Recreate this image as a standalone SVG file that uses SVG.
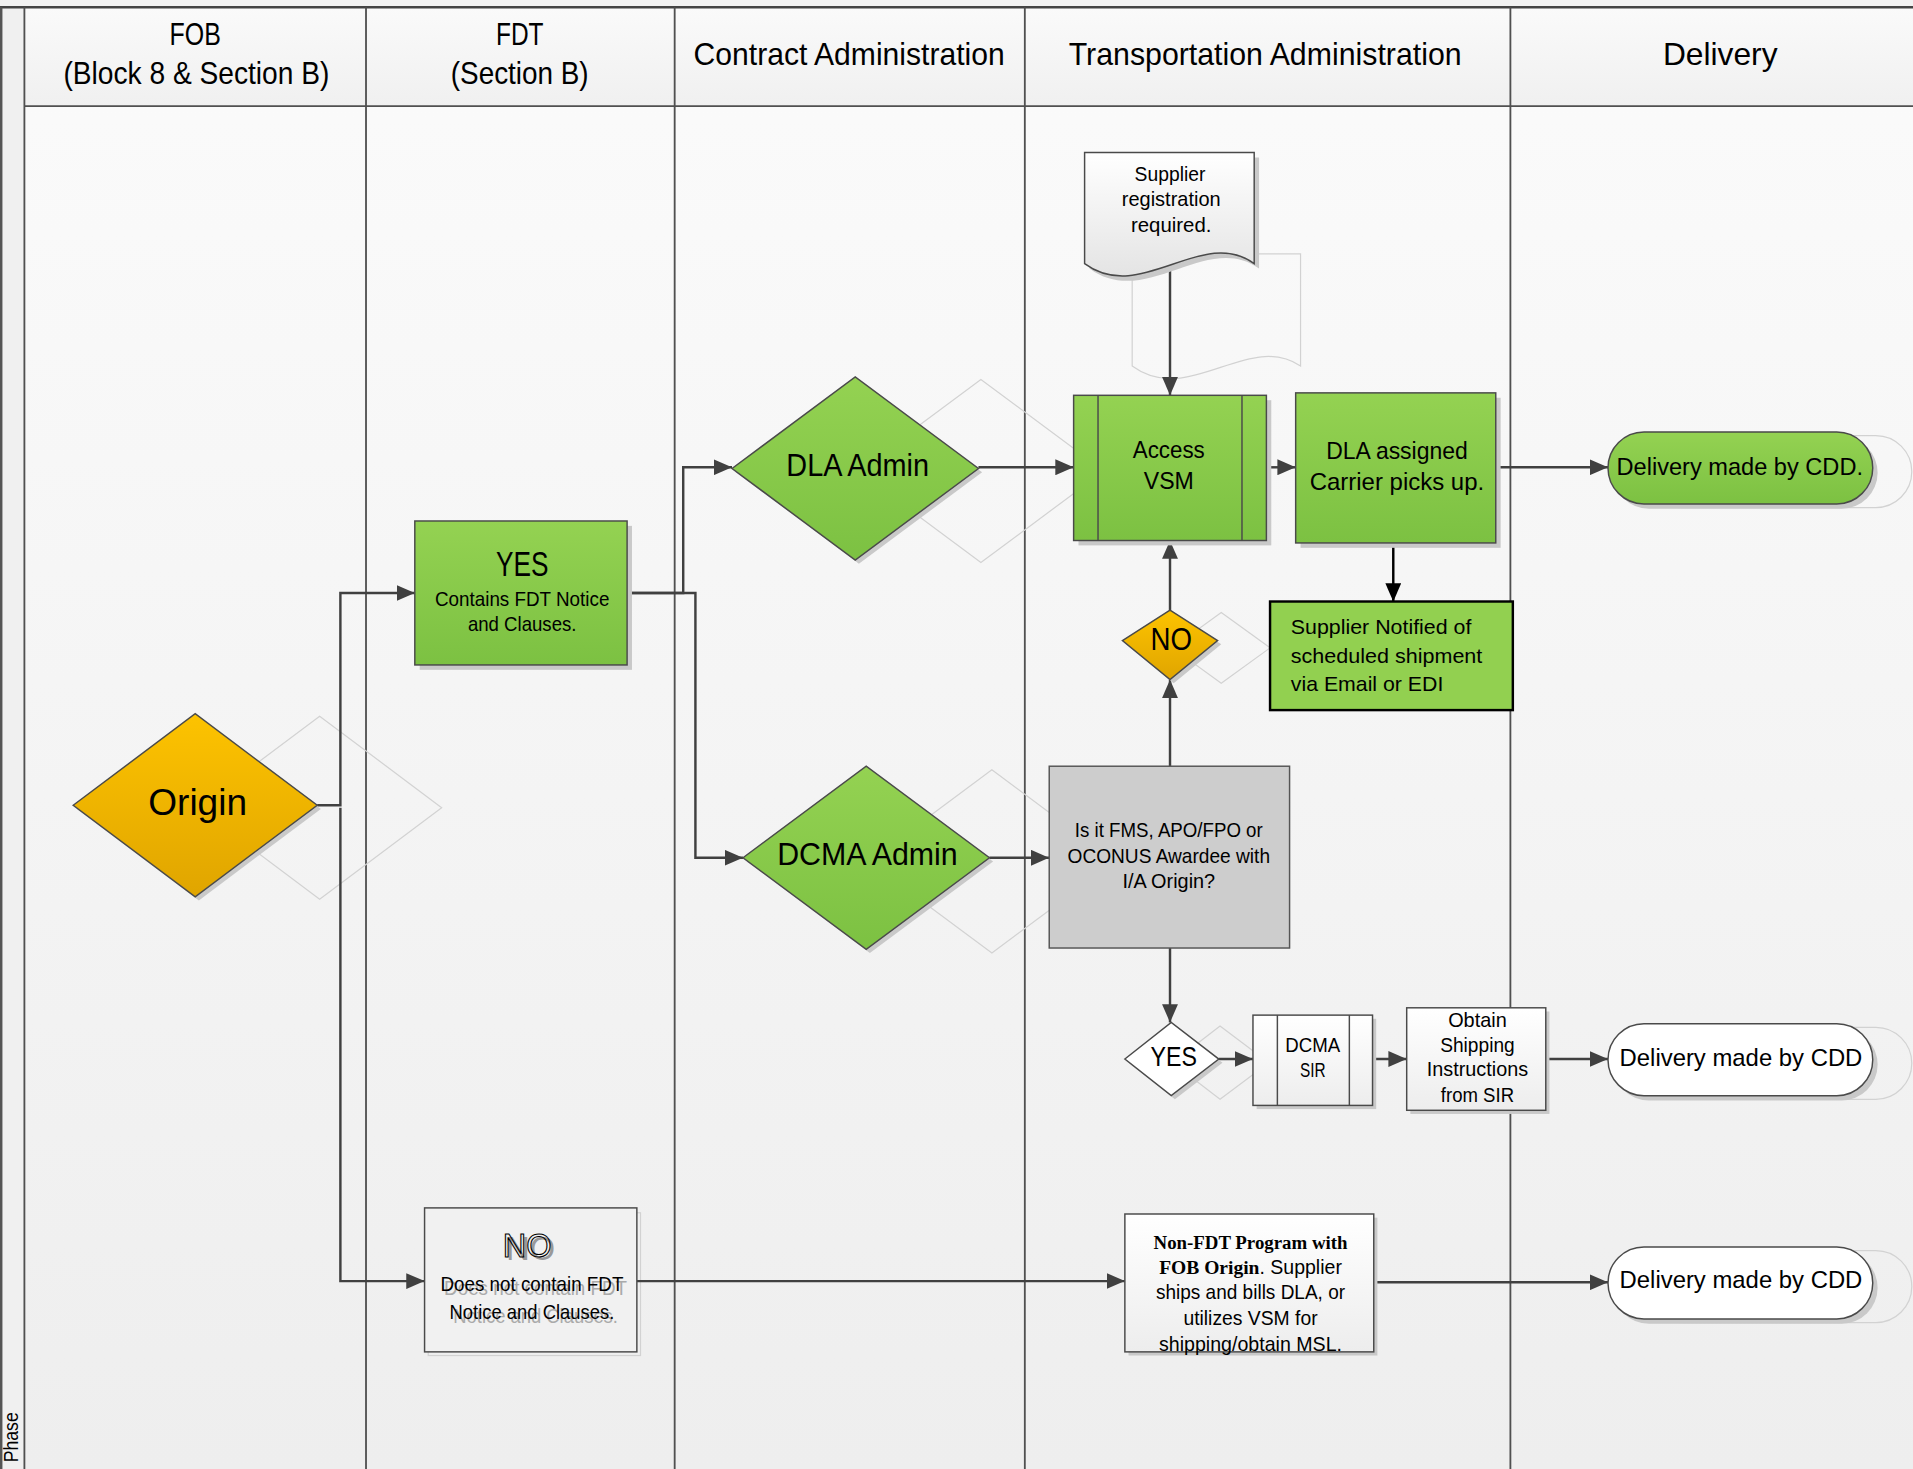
<svg xmlns="http://www.w3.org/2000/svg" width="1913" height="1469" viewBox="0 0 1913 1469">
<defs>
<linearGradient id="gGreen" x1="0" y1="0" x2="0" y2="1"><stop offset="0" stop-color="#94d252"/><stop offset="1" stop-color="#7cc142"/></linearGradient>
<linearGradient id="gGold" x1="0" y1="0" x2="0" y2="1"><stop offset="0" stop-color="#fdc300"/><stop offset="1" stop-color="#e0a500"/></linearGradient>
<linearGradient id="gWhite" x1="0" y1="0" x2="0" y2="1"><stop offset="0" stop-color="#ffffff"/><stop offset="1" stop-color="#ededed"/></linearGradient>
<linearGradient id="gDoc" x1="0" y1="0" x2="0" y2="1"><stop offset="0" stop-color="#ffffff"/><stop offset="1" stop-color="#e4e4e4"/></linearGradient>
<linearGradient id="gBg" x1="0" y1="0" x2="0" y2="1"><stop offset="0" stop-color="#fbfbfb"/><stop offset="1" stop-color="#eeeeee"/></linearGradient>
<linearGradient id="gHead" x1="0" y1="0" x2="0" y2="1"><stop offset="0" stop-color="#fafafa"/><stop offset="1" stop-color="#f0f0f0"/></linearGradient>
<marker id="arr" markerUnits="userSpaceOnUse" markerWidth="15" markerHeight="13" refX="15" refY="6.5" orient="auto"><path d="M0,0 L15,6.5 L0,13 z" fill="#404040"/></marker>
<marker id="arrK" markerUnits="userSpaceOnUse" markerWidth="15" markerHeight="13" refX="15" refY="6.5" orient="auto"><path d="M0,0 L15,6.5 L0,13 z" fill="#000"/></marker>
<style>
text{font-family:"Liberation Sans Narrow","Liberation Sans",Arial,sans-serif;fill:#000;text-anchor:middle}
.hd{font-size:25px}
.lane{stroke:#505050;stroke-width:1.5;fill:none}
.con{stroke:#404040;stroke-width:2;fill:none;marker-end:url(#arr)}
.ghost{stroke:#d2d2d2;stroke-width:1;fill:none}
.shd{fill:#c9c9c9;stroke:none}
.nd{stroke:#4a4a4a;stroke-width:1.2}
.t16{font-size:16px}
.t20{font-size:20px}
</style>
</defs>
<rect x="0" y="0" width="1913" height="1469" fill="#f2f2f2"/>
<g transform="scale(1.22003,1.2201)">
<g id="lanes">
<rect x="0" y="6" width="1568" height="1198" fill="url(#gBg)"/>
<rect x="0" y="6" width="20" height="1198" fill="#f0f0f0"/>
<rect x="20" y="6" width="1548" height="81" fill="url(#gHead)"/>
<line x1="0" y1="6" x2="1568" y2="6" stroke="#444" stroke-width="2"/>
<line x1="1" y1="6" x2="1" y2="1204" stroke="#555" stroke-width="2"/>
<line x1="20" y1="87" x2="1568" y2="87" class="lane"/>
<line x1="20" y1="6" x2="20" y2="1204" class="lane"/>
<line x1="300" y1="6" x2="300" y2="1204" class="lane"/>
<line x1="553" y1="6" x2="553" y2="1204" class="lane"/>
<line x1="840" y1="6" x2="840" y2="1204" class="lane"/>
<line x1="1238" y1="6" x2="1238" y2="1204" class="lane"/>
<text class="hd" x="160" y="37" textLength="42" lengthAdjust="spacingAndGlyphs">FOB</text>
<text class="hd" x="161" y="69" textLength="218" lengthAdjust="spacingAndGlyphs">(Block 8 &amp; Section B)</text>
<text class="hd" x="426" y="37" textLength="39" lengthAdjust="spacingAndGlyphs">FDT</text>
<text class="hd" x="426" y="69" textLength="113" lengthAdjust="spacingAndGlyphs">(Section B)</text>
<text class="hd" x="696" y="53" textLength="255" lengthAdjust="spacingAndGlyphs">Contract Administration</text>
<text class="hd" x="1037" y="53" textLength="322" lengthAdjust="spacingAndGlyphs">Transportation Administration</text>
<text class="hd" x="1410" y="53" textLength="94" lengthAdjust="spacingAndGlyphs">Delivery</text>
<text transform="translate(15,1178) rotate(-90)" style="font-size:16px" textLength="41" lengthAdjust="spacingAndGlyphs">Phase</text>
</g>
<g id="ghosts">
<polygon class="ghost" points="162,662 262,587 362,662 262,737"/>
<polygon class="ghost" points="703,386 804,311 905,386 804,461"/>
<polygon class="ghost" points="712,706 813,631 914,706 813,781"/>
<polygon class="ghost" points="961,531 1001,502 1041,531 1001,560"/>
<polygon class="ghost" points="961,871 1000,841 1040,871 1000,901"/>
<path class="ghost" d="M928,208 H1066 V300 C1023,271 974,334 928,300 Z"/>
<rect class="ghost" x="1350" y="357" width="217" height="59" rx="29.5"/>
<rect class="ghost" x="1350" y="842" width="217" height="59" rx="29.5"/>
<rect class="ghost" x="1350" y="1025" width="217" height="59" rx="29.5"/>
<rect class="ghost" x="351" y="994" width="174" height="117"/>
</g>
<g id="connectors">
<path class="con" d="M260,660 H279 V486 H340"/>
<path class="con" d="M279,662 V1050 H348"/>
<path class="con" d="M514,486 H560 V383 H600"/>
<path class="con" d="M514,486 H570 V703 H609"/>
<path class="con" d="M802,383 H880"/>
<path class="con" d="M959,218 V324"/>
<path class="con" d="M1038,383 H1062"/>
<path class="con" d="M1226,383 H1318"/>
<path d="M1142,445 V493" stroke="#000" stroke-width="2" fill="none" marker-end="url(#arrK)"/>
<path class="con" d="M959,500 V443"/>
<path class="con" d="M959,628 V557"/>
<path class="con" d="M811,703 H860"/>
<path class="con" d="M959,777 V838"/>
<path class="con" d="M999,868 H1027"/>
<path class="con" d="M1125,868 H1153"/>
<path class="con" d="M1267,868 H1318"/>
<path class="con" d="M522,1050 H922"/>
<path class="con" d="M1126,1051 H1318"/>
</g>
<g id="origin">
<polygon class="shd" points="63,663 163,588 263,663 163,738"/>
<polygon class="nd" fill="url(#gGold)" points="60,660 160,585 260,660 160,735"/>
<text x="162" y="668" style="font-family:'Liberation Sans',Arial,sans-serif;font-size:30px" textLength="81" lengthAdjust="spacingAndGlyphs">Origin</text>
</g>
<g id="fdt-yes">
<rect class="shd" x="344" y="431" width="174" height="118"/>
<rect class="nd" fill="url(#gGreen)" x="340" y="427" width="174" height="118"/>
<text x="428" y="472" style="font-size:29px" textLength="43" lengthAdjust="spacingAndGlyphs">YES</text>
<text class="t16" x="428" y="497" textLength="143" lengthAdjust="spacingAndGlyphs">Contains FDT Notice</text>
<text class="t16" x="428" y="517" textLength="89" lengthAdjust="spacingAndGlyphs">and Clauses.</text>
</g>
<g id="fdt-no">
<rect class="nd" fill="#f1f1f1" x="348" y="990" width="174" height="118" stroke="#666"/>
<text x="435" y="1033" style="font-size:27px;fill:#999" textLength="40" lengthAdjust="spacingAndGlyphs">NO</text>
<text x="432" y="1030" style="font-size:27px;fill:none;stroke:#000;stroke-width:0.9" textLength="40" lengthAdjust="spacingAndGlyphs">NO</text>
<text class="t16" x="439" y="1061" style="fill:#aaa" textLength="150" lengthAdjust="spacingAndGlyphs">Does not contain FDT</text>
<text class="t16" x="439" y="1084" style="fill:#aaa" textLength="135" lengthAdjust="spacingAndGlyphs">Notice and Clauses.</text>
<text class="t16" x="436" y="1058" textLength="150" lengthAdjust="spacingAndGlyphs">Does not contain FDT</text>
<text class="t16" x="436" y="1081" textLength="135" lengthAdjust="spacingAndGlyphs">Notice and Clauses.</text>
</g>
<g id="dla-admin">
<polygon class="shd" points="603,387 704,312 805,387 704,462"/>
<polygon class="nd" fill="url(#gGreen)" points="600,384 701,309 802,384 701,459"/>
<text x="703" y="390" style="font-size:25px" textLength="117" lengthAdjust="spacingAndGlyphs">DLA Admin</text>
</g>
<g id="dcma-admin">
<polygon class="shd" points="612,706 713,631 814,706 713,781"/>
<polygon class="nd" fill="url(#gGreen)" points="609,703 710,628 811,703 710,778"/>
<text x="711" y="709" style="font-size:25px" textLength="148" lengthAdjust="spacingAndGlyphs">DCMA Admin</text>
</g>
<g id="supplier-registration">
<path class="shd" d="M893,129 H1032 V220 C989,189 939,254 893,220 Z"/>
<path class="nd" fill="url(#gDoc)" d="M889,125 H1028 V216 C985,185 935,250 889,216 Z"/>
<text class="t16" x="959" y="148" textLength="58" lengthAdjust="spacingAndGlyphs">Supplier</text>
<text class="t16" x="960" y="169" textLength="81" lengthAdjust="spacingAndGlyphs">registration</text>
<text class="t16" x="960" y="190" textLength="66" lengthAdjust="spacingAndGlyphs">required.</text>
</g>
<g id="access-vsm">
<rect class="shd" x="884" y="328" width="158" height="119"/>
<rect class="nd" fill="url(#gGreen)" x="880" y="324" width="158" height="119"/>
<line x1="900" y1="324" x2="900" y2="443" stroke="#4a4a4a" stroke-width="1.2"/>
<line x1="1018" y1="324" x2="1018" y2="443" stroke="#4a4a4a" stroke-width="1.2"/>
<text class="t20" x="958" y="375" textLength="59" lengthAdjust="spacingAndGlyphs">Access</text>
<text class="t20" x="958" y="401" textLength="41" lengthAdjust="spacingAndGlyphs">VSM</text>
</g>
<g id="dla-carrier">
<rect class="shd" x="1066" y="326" width="164" height="123"/>
<rect class="nd" fill="url(#gGreen)" x="1062" y="322" width="164" height="123"/>
<text class="t20" x="1145" y="376" textLength="116" lengthAdjust="spacingAndGlyphs">DLA assigned</text>
<text class="t20" x="1145" y="402" textLength="143" lengthAdjust="spacingAndGlyphs">Carrier picks up.</text>
</g>
<g id="delivery-1">
<rect class="shd" x="1322" y="358" width="217" height="59" rx="29.5"/>
<rect class="nd" fill="url(#gGreen)" x="1318" y="354" width="217" height="59" rx="29.5"/>
<text class="t20" x="1426" y="389" style="font-family:'Liberation Sans',Arial,sans-serif" textLength="202" lengthAdjust="spacingAndGlyphs">Delivery made by CDD.</text>
</g>
<g id="supplier-notified">
<rect x="1041" y="493" width="199" height="89" fill="#92d050" stroke="#000" stroke-width="2"/>
<text x="1058" y="520" style="font-family:'Liberation Sans',Arial,sans-serif;font-size:17px;text-anchor:start" textLength="148" lengthAdjust="spacingAndGlyphs">Supplier Notified of</text>
<text x="1058" y="543" style="font-family:'Liberation Sans',Arial,sans-serif;font-size:17px;text-anchor:start" textLength="157" lengthAdjust="spacingAndGlyphs">scheduled shipment</text>
<text x="1058" y="566" style="font-family:'Liberation Sans',Arial,sans-serif;font-size:17px;text-anchor:start" textLength="125" lengthAdjust="spacingAndGlyphs">via Email or EDI</text>
</g>
<g id="no-decision">
<polygon class="shd" points="923,528 962,503 1001,528 962,560"/>
<polygon class="nd" fill="url(#gGold)" points="920,525 959,500 998,525 959,557"/>
<text x="960" y="533" style="font-size:25px" textLength="34" lengthAdjust="spacingAndGlyphs">NO</text>
</g>
<g id="question">
<rect x="860" y="628" width="197" height="149" fill="#cdcdcd" stroke="#555" stroke-width="1.2"/>
<text class="t16" x="958" y="686" textLength="154" lengthAdjust="spacingAndGlyphs">Is it FMS, APO/FPO or</text>
<text class="t16" x="958" y="707" textLength="166" lengthAdjust="spacingAndGlyphs">OCONUS Awardee with</text>
<text class="t16" x="958" y="728" textLength="76" lengthAdjust="spacingAndGlyphs">I/A Origin?</text>
</g>
<g id="yes-decision">
<polygon class="shd" points="925,871 963,841 1002,871 963,901"/>
<polygon class="nd" fill="#fff" points="922,868 960,838 999,868 960,898"/>
<text x="962" y="874" style="font-size:23px" textLength="38" lengthAdjust="spacingAndGlyphs">YES</text>
</g>
<g id="dcma-sir">
<rect class="shd" x="1030" y="835" width="98" height="74"/>
<rect class="nd" fill="url(#gWhite)" x="1027" y="832" width="98" height="74"/>
<line x1="1047" y1="832" x2="1047" y2="906" stroke="#4a4a4a" stroke-width="1.2"/>
<line x1="1106" y1="832" x2="1106" y2="906" stroke="#4a4a4a" stroke-width="1.2"/>
<text class="t16" x="1076" y="862" textLength="45" lengthAdjust="spacingAndGlyphs">DCMA</text>
<text class="t16" x="1076" y="883" textLength="21" lengthAdjust="spacingAndGlyphs">SIR</text>
</g>
<g id="obtain-shipping">
<rect class="shd" x="1156" y="829" width="114" height="84"/>
<rect class="nd" fill="url(#gWhite)" x="1153" y="826" width="114" height="84"/>
<text class="t16" x="1211" y="842" textLength="48" lengthAdjust="spacingAndGlyphs">Obtain</text>
<text class="t16" x="1211" y="862" textLength="61" lengthAdjust="spacingAndGlyphs">Shipping</text>
<text class="t16" x="1211" y="882" textLength="83" lengthAdjust="spacingAndGlyphs">Instructions</text>
<text class="t16" x="1211" y="903" textLength="60" lengthAdjust="spacingAndGlyphs">from SIR</text>
</g>
<g id="delivery-2">
<rect class="shd" x="1322" y="843" width="217" height="59" rx="29.5"/>
<rect class="nd" fill="#fff" x="1318" y="839" width="217" height="59" rx="29.5"/>
<text class="t20" x="1427" y="874" textLength="199" lengthAdjust="spacingAndGlyphs">Delivery  made by CDD</text>
</g>
<g id="non-fdt">
<rect class="shd" x="925" y="998" width="204" height="113"/>
<rect class="nd" fill="url(#gWhite)" x="922" y="995" width="204" height="113"/>
<text x="1025" y="1024" style="font-family:'Liberation Serif','Times New Roman',serif;font-weight:bold;font-size:16px" textLength="159" lengthAdjust="spacingAndGlyphs">Non-FDT Program with</text>
<text x="1025" y="1044" class="t16"><tspan style="font-family:'Liberation Serif','Times New Roman',serif;font-weight:bold">FOB Origin</tspan>. Supplier</text>
<text class="t16" x="1025" y="1065" textLength="155" lengthAdjust="spacingAndGlyphs">ships and bills DLA, or</text>
<text class="t16" x="1025" y="1086" textLength="110" lengthAdjust="spacingAndGlyphs">utilizes VSM for</text>
<text class="t16" x="1025" y="1107" textLength="150" lengthAdjust="spacingAndGlyphs">shipping/obtain MSL.</text>
</g>
<g id="delivery-3">
<rect class="shd" x="1322" y="1026" width="217" height="59" rx="29.5"/>
<rect class="nd" fill="#fff" x="1318" y="1022" width="217" height="59" rx="29.5"/>
<text class="t20" x="1427" y="1056" textLength="199" lengthAdjust="spacingAndGlyphs">Delivery  made by CDD</text>
</g>
</g>
</svg>
